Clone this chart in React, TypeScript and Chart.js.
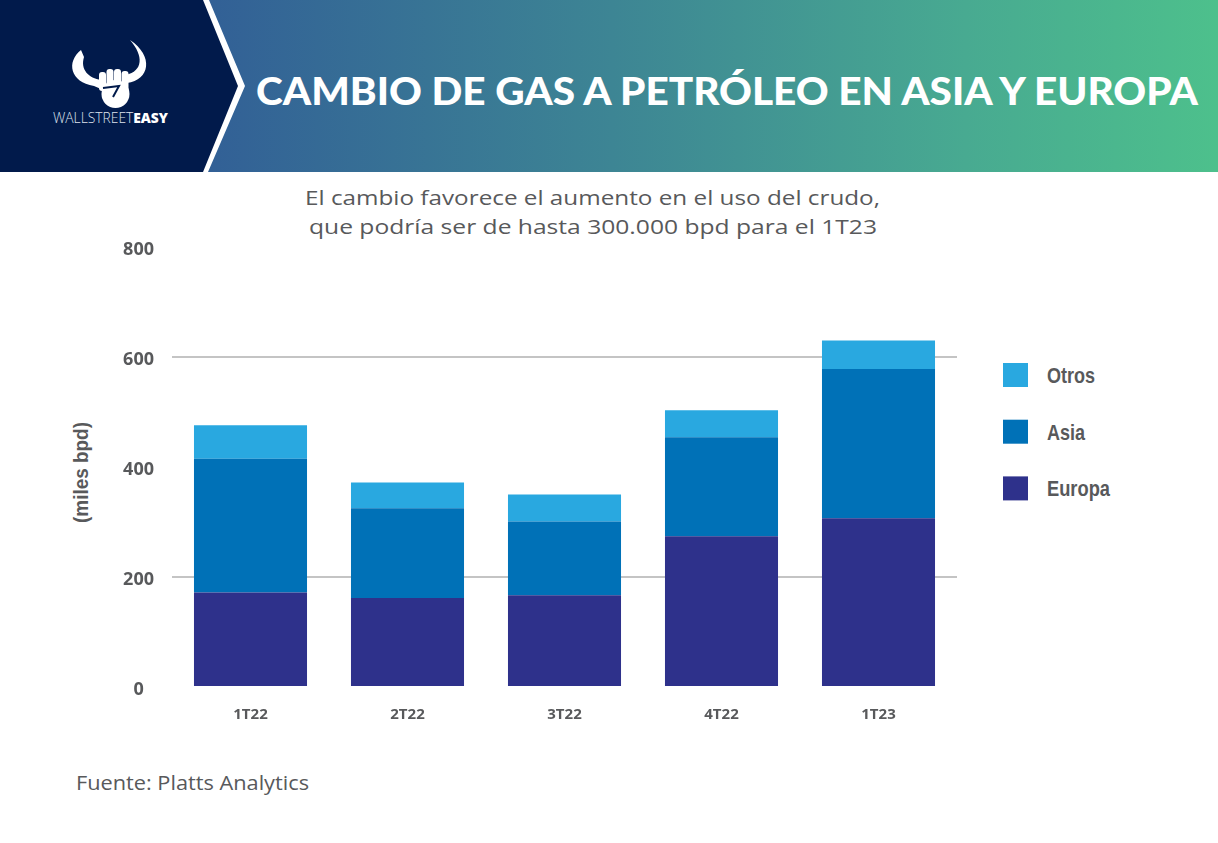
import React, { useEffect, useRef } from "react";
import { Chart, registerables } from "chart.js";

Chart.register(...registerables);

const categories = ["1T22", "2T22", "3T22", "4T22", "1T23"];
const europa = [172, 162, 167, 274, 307];
const asia = [243, 163, 134, 180, 271];
const otros = [61, 47, 49, 49, 52];
const yTicks = [0, 200, 400, 600, 800];
const gridValues = [200, 600];

const seriesNames = ["Europa", "Asia", "Otros"];
const seriesColors = ["#2e318b", "#0071b7", "#29a8e0"];
const legendWidths = [63, 38, 48];

const TEXT = "#58595b";
const narrow = "'Liberation Sans Narrow', 'Liberation Sans', 'DejaVu Sans Condensed', sans-serif";

export default function App() {
  const ref = useRef<HTMLCanvasElement | null>(null);

  useEffect(() => {
    document.body.style.margin = "0";
    const canvas = ref.current;
    if (!canvas) return;
    const chart = new Chart(canvas, {
      type: "bar",
      data: {
        labels: categories,
        datasets: [europa, asia, otros].map((d, i) => ({
          label: seriesNames[i],
          data: d,
          backgroundColor: seriesColors[i],
          borderWidth: 0,
          categoryPercentage: 0.8,
          barPercentage: 0.9,
        })),
      },
      options: {
        animation: false,
        responsive: false,
        devicePixelRatio: 1,
        layout: { padding: { left: 72, right: 261, top: 247, bottom: 116 } },
        plugins: { legend: { display: false }, tooltip: { enabled: false }, title: { display: false } },
        scales: {
          x: {
            stacked: true,
            grid: { display: false, drawTicks: false },
            border: { display: false },
            ticks: {
              color: TEXT,
              padding: 19,
              font: { family: "'Open Sans', sans-serif", weight: "bold", size: 15 },
            },
            afterFit: (s: any) => {
              s.height = 40;
            },
          },
          y: {
            stacked: true,
            min: 0,
            max: 800,
            afterBuildTicks: (s: any) => {
              s.ticks = yTicks.map((v) => ({ value: v }));
            },
            grid: {
              drawTicks: false,
              lineWidth: 2,
              color: (ctx: any) =>
                gridValues.includes(ctx.tick?.value) ? "#c4c4c4" : "rgba(0,0,0,0)",
            },
            border: { display: false },
            ticks: {
              color: TEXT,
              padding: 18,
              labelOffset: 3,
              crossAlign: "center",
              font: { family: "'Open Sans', sans-serif", weight: "bold", size: 18, lineHeight: 1.0 },
            },
            afterFit: (s: any) => {
              s.width = 100;
            },
          },
        },
      },
    });
    return () => chart.destroy();
  }, []);

  const legendItems = [2, 1, 0];

  return (
    <div style={{ position: "absolute", left: 0, top: 0, width: 1218, height: 843, background: "#fff", overflow: "hidden" }}>
      <svg width={1218} height={843} style={{ position: "absolute", left: 0, top: 0 }}>
        <defs>
          <linearGradient id="hdr" x1="208" y1="0" x2="1218" y2="0" gradientUnits="userSpaceOnUse">
            <stop offset="0" stopColor="#326096" />
            <stop offset="0.4" stopColor="#3d8594" />
            <stop offset="0.75" stopColor="#48aa91" />
            <stop offset="1" stopColor="#4dc08c" />
          </linearGradient>
        </defs>
        <polygon points="209,0 1218,0 1218,172 208,172 245,86" fill="url(#hdr)" />
        <polygon points="0,0 203,0 238,86 203,172 0,172" fill="#011a4b" />
        {/* logo */}
        <g fill="#fff">
          <path d="M81,50 C66,62 70,82 94,86 L101,89 L101,80 C89,78 80,70 84,57 Z" />
          <path d="M130,40 C154,56 150,80 127,83 L126,75 C143,71 144,56 130,40 Z" />
          <rect x="99" y="72" width="7" height="19" rx="3" />
          <rect x="106.5" y="69" width="7" height="22" rx="3" />
          <rect x="114" y="69" width="7" height="22" rx="3" />
          <rect x="121.5" y="71" width="7" height="20" rx="3" />
          <circle cx="115.5" cy="94" r="14" />
        </g>
        <path d="M103,88 L119,86 L113,97" stroke="#011a4b" strokeWidth="2" fill="none" />
        <text x="53" y="123" textLength="115" lengthAdjust="spacingAndGlyphs" fill="#fff"
          style={{ fontFamily: "'Open Sans', sans-serif", fontSize: 14 }}>
          <tspan style={{ fontWeight: 300 }} fill="#dfe3ee">WALLSTREET</tspan>
          <tspan style={{ fontWeight: 800 }}>EASY</tspan>
        </text>
        <text x="256" y="105" textLength="942" lengthAdjust="spacingAndGlyphs" fill="#fff"
          style={{ fontFamily: "Lato, 'Open Sans', sans-serif", fontWeight: 900, fontSize: 38 }}>
          CAMBIO DE GAS A PETRÓLEO EN ASIA Y EUROPA
        </text>
        <text x="305" y="205" textLength="575" lengthAdjust="spacingAndGlyphs" fill={TEXT}
          style={{ fontFamily: "'Open Sans', sans-serif", fontSize: 20 }}>
          El cambio favorece el aumento en el uso del crudo,
        </text>
        <text x="309" y="234" textLength="568" lengthAdjust="spacingAndGlyphs" fill={TEXT}
          style={{ fontFamily: "'Open Sans', sans-serif", fontSize: 20 }}>
          que podría ser de hasta 300.000 bpd para el 1T23
        </text>
        <text x="-523" y="88" transform="rotate(-90)" textLength="101" lengthAdjust="spacingAndGlyphs" fill={TEXT}
          style={{ fontFamily: narrow, fontWeight: 700, fontSize: 21 }}>
          (miles bpd)
        </text>
        {legendItems.map((idx, k) => (
          <g key={idx}>
            <rect x={1003} y={363 + k * 56.7} width={25} height={24} fill={seriesColors[idx]} />
            <text x={1047} y={383 + k * 56.7} textLength={legendWidths[idx]} lengthAdjust="spacingAndGlyphs" fill={TEXT}
              style={{ fontFamily: narrow, fontWeight: 700, fontSize: 22 }}>
              {seriesNames[idx]}
            </text>
          </g>
        ))}
        <text x="76" y="790" textLength="233" lengthAdjust="spacingAndGlyphs" fill={TEXT}
          style={{ fontFamily: "'Open Sans', sans-serif", fontSize: 20 }}>
          Fuente: Platts Analytics
        </text>
      </svg>
      <canvas ref={ref} width={1218} height={843}
        style={{ position: "absolute", left: 0, top: 0, width: 1218, height: 843 }} />
    </div>
  );
}
